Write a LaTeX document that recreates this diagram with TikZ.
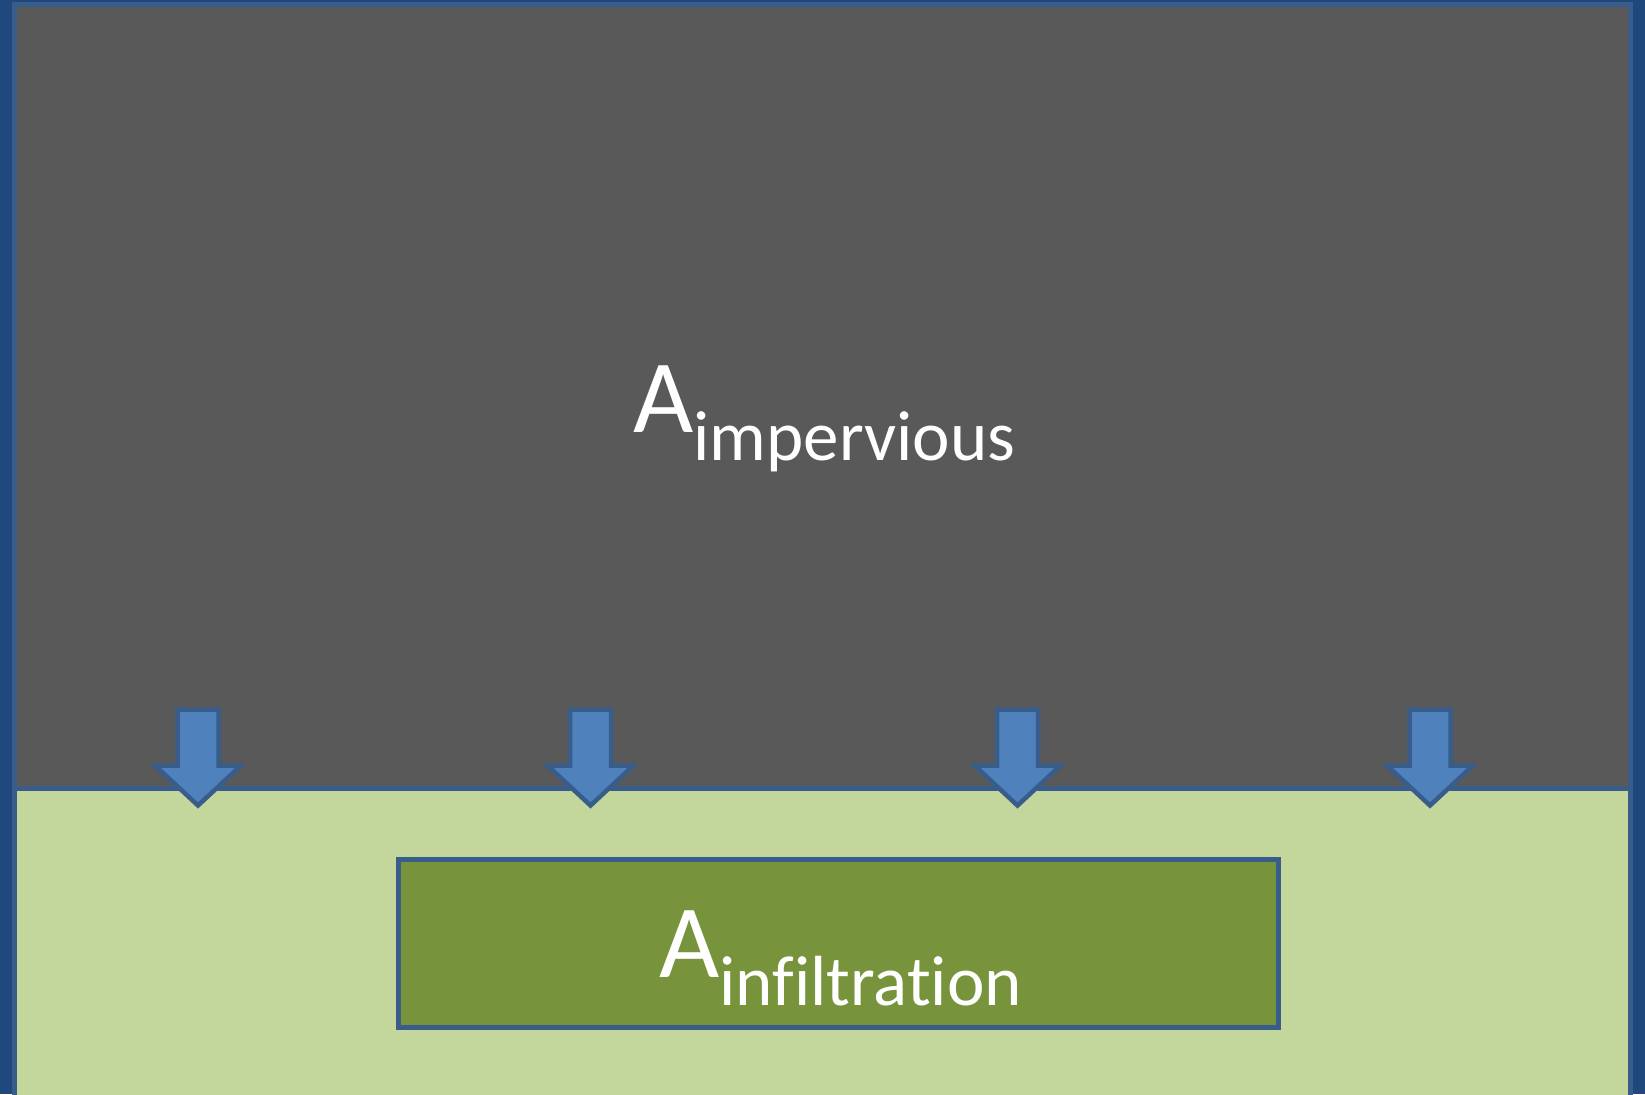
\documentclass[tikz,border=0pt]{standalone}
\usepackage{fontspec}
\setmainfont[Ligatures=NoCommon]{Carlito}
\definecolor{bgblue}{HTML}{1F497D}
\definecolor{edgeblue}{HTML}{385D8A}
\definecolor{paved}{HTML}{595959}
\definecolor{lawn}{HTML}{C3D69B}
\definecolor{bed}{HTML}{77933C}
\definecolor{flow}{HTML}{4F81BD}
\tikzset{
  area/.style={draw=edgeblue, line width=5pt, line join=miter},
  flowarrow/.style={draw=edgeblue, fill=flow, line width=4.5pt, line join=miter},
  label/.style={text=white, inner sep=0pt, anchor=base west},
  downarrow/.pic={\path[flowarrow] (-20.5,0) -- (20.5,0) -- (20.5,56) -- (43,56) -- (0,96) -- (-43,56) -- (-20.5,56) -- cycle;}
}
\newcommand{\bigA}[1]{{\fontsize{104}{104}\selectfont A}\raisebox{-28pt}{\fontsize{71}{71}\selectfont #1}}
\begin{document}
\begin{tikzpicture}[x=1pt,y=-1pt]
  \fill[bgblue] (0,0) rectangle (1645,1094);
  \useasboundingbox (0,0) rectangle (1645,1094);
  \begin{scope}
    \clip (0,0) rectangle (1645,1094);
    \path[area, fill=lawn] (14,788.5) rectangle (1630,1110);
  \end{scope}
  \path[area, fill=paved] (14,4.5) rectangle (1630,788.5);
  \path[area, fill=bed] (398,859) rectangle (1278.5,1027);
  \node[label] (imp) at (633,432) {\bigA{impervious}};
  \node[label] (inf) at (659,977.5) {\bigA{infiltration}};
  \pic at (198,709.5) {downarrow};
  \pic at (590.5,709.5) {downarrow};
  \pic at (1017.5,709.5) {downarrow};
  \pic at (1430,709.5) {downarrow};
\end{tikzpicture}
\end{document}
